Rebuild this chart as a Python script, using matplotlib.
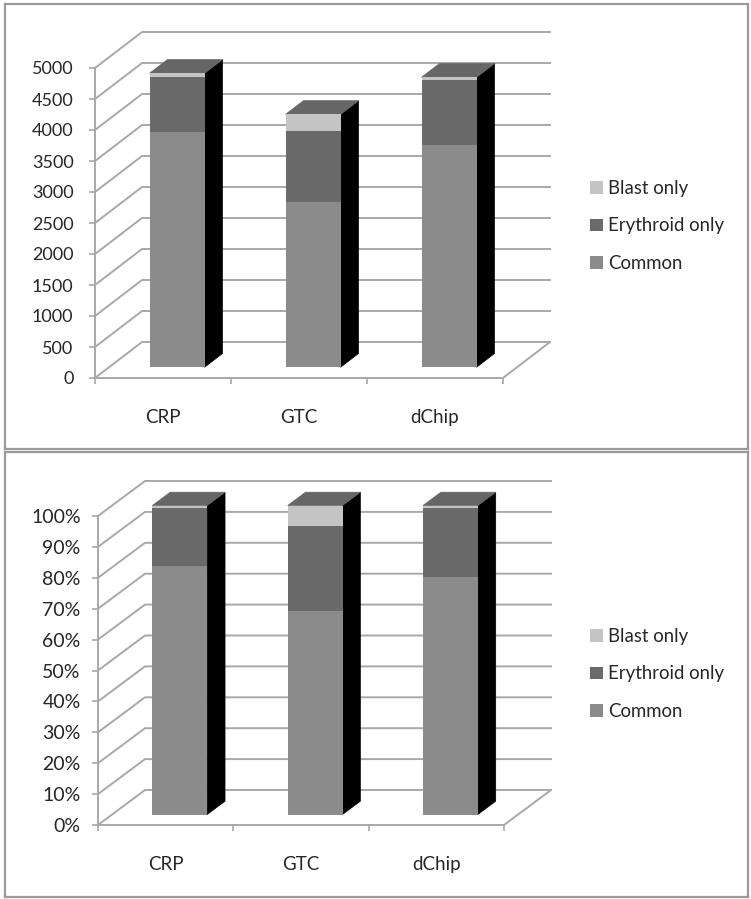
import matplotlib
matplotlib.use("Agg")
import matplotlib.pyplot as plt
from matplotlib.patches import Polygon

plt.rcParams['font.family'] = ['Lato', 'DejaVu Sans']

categories = ["CRP", "GTC", "dChip"]
series_names = ["Common", "Erythroid only", "Blast only"]

count_common = [3800, 2670, 3576]
count_erythroid = [885, 1133, 1052]
count_blast = [56, 275, 49]
count_ticks = [0, 500, 1000, 1500, 2000, 2500, 3000, 3500, 4000, 4500, 5000]
count_labels = [str(t) for t in count_ticks]

pct_common = [80.3, 65.7, 76.7]
pct_erythroid = [19.0, 27.8, 22.6]
pct_blast = [0.7, 6.5, 0.7]
pct_ticks = [0, 10, 20, 30, 40, 50, 60, 70, 80, 90, 100]
pct_labels = [f"{t}%" for t in pct_ticks]

COL_COMMON = "#8b8b8b"
COL_ERY = "#6a6a6a"
COL_BLAST = "#c4c4c4"
COL_TOP = "#666666"
COL_GRID = "#a8a8a8"
COL_TEXT = "#262626"
COL_FRAME = "#9a9a9a"

W, H = 751, 899
fig = plt.figure(figsize=(W / 100, H / 100), dpi=100, facecolor="white")


def box(x0, ytop, x1, ybot):
    return [x0 / W, 1 - ybot / H, (x1 - x0) / W, (ybot - ytop) / H]


def panel(x0, ytop, x1, ybot):
    a = fig.add_axes(box(x0, ytop, x1, ybot), zorder=0)
    a.set_xticks([])
    a.set_yticks([])
    for s in a.spines.values():
        s.set_color(COL_FRAME)
        s.set_linewidth(1.6)


def chart(rect, ticks, labels, s1, s2, s3, depth_px, pad, legend_y, ysize):
    x0, ytop, x1, ybot = rect
    ax = fig.add_axes(box(*rect), zorder=2)
    ax.patch.set_alpha(0)
    ymax = ticks[-1]
    ax.set_xlim(0, 3)
    ax.set_ylim(0, ymax)
    DX = depth_px[0] / (x1 - x0) * 3
    DY = depth_px[1] / (ybot - ytop) * ymax

    def proj(x, y, d):
        return (x + d * DX, y + d * DY)

    # walls
    for t in ticks:
        ax.plot(*zip(proj(0, t, 0), proj(0, t, 1), proj(3, t, 1)),
                color=COL_GRID, lw=1.4, clip_on=False, zorder=1)
    ax.plot(*zip(proj(3, 0, 0), proj(3, 0, 1)), color=COL_GRID, lw=1.4,
            clip_on=False, zorder=1)

    # bars
    d0, d1 = 0.30, 0.68
    width = 0.405
    bx = [proj(i + 0.5 - width / 2, 0, d0)[0] for i in range(3)]
    base = proj(0, 0, d0)[1]
    bars = []
    bottoms = [base] * 3
    for vals, col, name in zip((s1, s2, s3), (COL_COMMON, COL_ERY, COL_BLAST), series_names):
        b = ax.bar(bx, vals, width=width, bottom=bottoms, align="edge", color=col,
                   label=name, clip_on=False, zorder=4)
        bars.append(b)
        bottoms = [p + v for p, v in zip(bottoms, vals)]
    for i in range(3):
        left, right = bx[i], bx[i] + width
        total = bottoms[i] - base
        ya = base
        yb = base + total
        side = [(right, ya), proj(right, ya, d1 - d0), proj(right, yb, d1 - d0), (right, yb)]
        top = [(left, yb), (right, yb), proj(right, yb, d1 - d0), proj(left, yb, d1 - d0)]
        ax.add_patch(Polygon(side, closed=True, fc="black", ec="black", lw=0.5, clip_on=False, zorder=3))
        ax.add_patch(Polygon(top, closed=True, fc=COL_TOP, ec=COL_TOP, lw=0.5, clip_on=False, zorder=3))

    # axes
    for s in ("top", "right"):
        ax.spines[s].set_visible(False)
    for s in ("left", "bottom"):
        ax.spines[s].set_color(COL_GRID)
        ax.spines[s].set_linewidth(1.4)
    ax.set_yticks(ticks, labels)
    ax.tick_params(axis="y", length=4.5, width=1.2, color=COL_GRID, pad=pad,
                   labelsize=ysize, labelcolor=COL_TEXT)
    ax.set_xticks([0, 1, 2, 3], ["", "", "", ""])
    ax.set_xticks([0.5, 1.5, 2.5], categories, minor=True)
    ax.tick_params(axis="x", which="major", length=4, width=1.2, color=COL_GRID)
    ax.tick_params(axis="x", which="minor", length=0, pad=22, labelsize=13.5, labelcolor=COL_TEXT)

    h = [b for b in bars][::-1]
    fig.legend(h, series_names[::-1], loc="center left",
               bbox_to_anchor=(590 / W, 1 - legend_y / H), bbox_transform=fig.transFigure,
               frameon=False, fontsize=13.4, labelcolor=COL_TEXT,
               handlelength=0.68, handleheight=0.68, handletextpad=0.3,
               labelspacing=1.1, borderpad=0, borderaxespad=0)


panel(5, 4, 748, 449)
panel(5, 452, 748, 897)

chart((95, 68, 503, 378), count_ticks, count_labels,
      count_common, count_erythroid, count_blast, (47, 36), 11, 226, 13)
chart((98, 516, 504, 825), pct_ticks, pct_labels,
      pct_common, pct_erythroid, pct_blast, (47, 35), 8, 674, 14)

fig.savefig("out.png", dpi=100)
